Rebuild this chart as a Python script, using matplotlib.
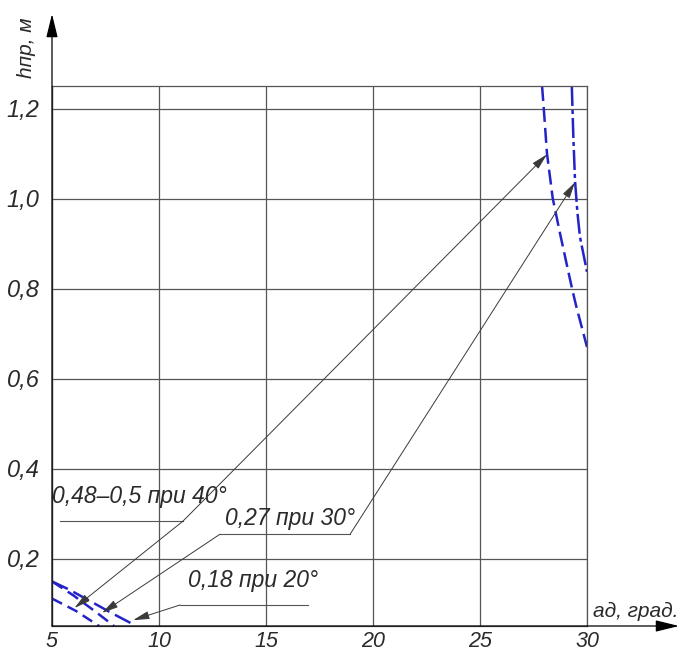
import matplotlib

matplotlib.use("Agg")
import matplotlib.pyplot as plt

# axis ticks
deg_ticks = [5, 10, 15, 20, 25, 30]
deg_labels = ["5", "10", "15", "20", "25", "30"]
h_ticks = [0.2, 0.4, 0.6, 0.8, 1.0, 1.2]
h_labels = ["0,2", "0,4", "0,6", "0,8", "1,0", "1,2"]

# lower-left curves (20, 30, 40 deg)
c20_x = [5.0, 5.8, 6.45, 7.1, 7.7, 8.3, 8.9]
c20_y = [0.149, 0.131, 0.114, 0.097, 0.081, 0.066, 0.051]
c30_x = [5.0, 6.0, 7.0, 7.9]
c30_y = [0.149, 0.118, 0.083, 0.050]
c40_x = [5.0, 6.1, 7.2]
c40_y = [0.111, 0.084, 0.050]

# upper-right curves
r40_x = [27.9, 27.98, 28.13, 28.4, 28.75, 29.07, 29.3, 29.5, 30.0]
r40_y = [1.25, 1.2, 1.1, 1.0, 0.92, 0.85, 0.8, 0.76, 0.67]
r30_x = [29.29, 29.36, 29.44, 29.55, 29.67, 30.0]
r30_y = [1.25, 1.14, 1.04, 0.97, 0.915, 0.837]

# callouts: text, text anchor, shelf (x0, x1, y), arrow tips
callouts = [
    ("0,48–0,5 при 40°", (5.0, 0.323), (5.37, 11.12, 0.283),
     [(11.12, 0.283, 28.13, 1.098), (11.12, 0.283, 6.05, 0.09)]),
    ("0,27 при 30°", (13.08, 0.274), (12.85, 18.93, 0.254),
     [(18.93, 0.254, 29.44, 1.036), (12.85, 0.254, 7.34, 0.079)]),
    ("0,18 при 20°", (11.36, 0.137), (10.98, 16.96, 0.0967),
     [(10.98, 0.0967, 8.79, 0.063)]),
]

FONT = ["DejaVu Sans Condensed", "Liberation Sans", "DejaVu Sans"]
BLUE = "#2323c8"
GRID = "#555555"
INK = "#2a2a2a"

fig = plt.figure(figsize=(6.79, 6.52), dpi=100)
ax = fig.add_axes([52 / 679, 26 / 652, 535 / 679, 540 / 652])
ax.set_xlim(5, 30)
ax.set_ylim(0.05, 1.25)

ax.set_xticks(deg_ticks)
ax.set_xticklabels(deg_labels, family=FONT, style="italic", fontsize=15.5)
ax.set_yticks(h_ticks)
ax.set_yticklabels(h_labels, family=FONT, style="italic", fontsize=17)
ax.tick_params(length=0, colors=INK)
ax.tick_params(axis="x", pad=3.5)
ax.tick_params(axis="y", pad=9)
ax.grid(True, color=GRID, lw=0.9)
for s in ax.spines.values():
    s.set_color(GRID)
    s.set_linewidth(0.9)

# axis arrows
arr = dict(arrowstyle="-|>,head_length=0.9,head_width=0.22", color="black",
           lw=0.9, mutation_scale=16, shrinkA=0, shrinkB=0)
ax.annotate("", xy=(5, 1.41), xytext=(5, 0.05), arrowprops=arr,
            annotation_clip=False)
ax.annotate("", xy=(34.3, 0.05), xytext=(5, 0.05), arrowprops=arr,
            annotation_clip=False)

# curves
ax.plot(c20_x, c20_y, color=BLUE, lw=1.8, dashes=(7, 2.5))
ax.plot(c30_x, c30_y, color=BLUE, lw=1.8, dashes=(5, 2.5))
ax.plot(c40_x, c40_y, color=BLUE, lw=1.8, dashes=(4.5, 2.5))
ax.plot(r40_x, r40_y, color=BLUE, lw=1.8, dashes=(6, 2.4))
ax.plot(r30_x, r30_y, color=BLUE, lw=1.8, dashes=(8, 1.6, 1.6, 1.6))

# callouts
lead = dict(arrowstyle="-|>,head_length=0.9,head_width=0.22", color="#3a3a3a",
            lw=0.7, mutation_scale=11, shrinkA=0, shrinkB=0)
for text, (tx, ty), (sx0, sx1, sy), arrows in callouts:
    ax.plot([sx0, sx1], [sy, sy], color=GRID, lw=0.8, clip_on=False)
    ax.text(tx, ty, text, family=FONT, style="italic", fontsize=16.5,
            color=INK, va="baseline", ha="left")
    for x0, y0, x1, y1 in arrows:
        ax.annotate("", xy=(x1, y1), xytext=(x0, y0), arrowprops=lead)

# axis titles
fig.text(26 / 679, 1 - 48 / 652, "hпр, м", rotation=90, family=FONT,
         style="italic", fontsize=15, color=INK, ha="center", va="center")
fig.text(593 / 679, 1 - 617 / 652, "ад, град.", family=FONT,
         style="italic", fontsize=15, color=INK, ha="left", va="baseline")

fig.savefig("out.png", dpi=100)
